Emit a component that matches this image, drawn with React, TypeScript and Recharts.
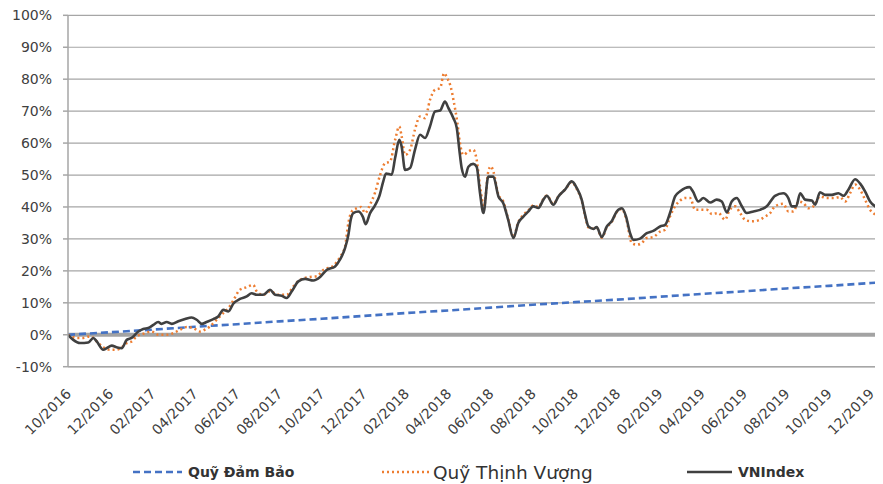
import React from 'react';
import { LineChart, Line, XAxis, YAxis, CartesianGrid } from 'recharts';

// x = months since 10/2016, y = cumulative return in %
const X_TICKS = [0, 2, 4, 6, 8, 10, 12, 14, 16, 18, 20, 22, 24, 26, 28, 30, 32, 34, 36, 38];
const X_LABELS = ['10/2016', '12/2016', '02/2017', '04/2017', '06/2017', '08/2017', '10/2017', '12/2017', '02/2018', '04/2018',
  '06/2018', '08/2018', '10/2018', '12/2018', '02/2019', '04/2019', '06/2019', '08/2019', '10/2019', '12/2019'];
const Y_TICKS = [-10, 0, 10, 20, 30, 40, 50, 60, 70, 80, 90, 100];

// flat 0% baseline drawn in grey
const ZERO_X = [0, 38.57];
const ZERO_Y = [0, 0];

const DB_X = [0, 2, 4, 6, 8, 10, 12, 14, 16, 18, 20, 22, 24, 26, 28, 30, 32, 34, 36, 38, 38.57];
const DB_Y = [0, 0.8, 1.6, 2.5, 3.3, 4.2, 5.0, 5.9, 6.8, 7.6, 8.5, 9.4, 10.2, 11.0, 11.9, 12.8, 13.6, 14.5, 15.3, 16.2, 16.4];

const VN_X = [0, 0.25, 0.57, 0.96, 1.2, 1.36, 1.67, 1.83, 2.07, 2.3, 2.54, 2.78, 3.01, 3.33, 3.56, 3.8, 4.04, 4.27, 4.43, 4.67,
  4.91, 5.22, 5.54, 5.85, 6.09, 6.33, 6.56, 6.88, 7.11, 7.35, 7.59, 7.82, 8.14, 8.46, 8.69, 8.93, 9.24, 9.56, 9.8, 10.11,
  10.35, 10.59, 10.9, 11.22, 11.61, 11.93, 12.24, 12.64, 12.87, 13.11, 13.27, 13.38, 13.5, 13.74, 13.95, 14.09, 14.29, 14.53, 14.73, 14.92,
  15.05, 15.32, 15.48, 15.68, 15.79, 15.95, 16.19, 16.42, 16.66, 16.9, 17.13, 17.37, 17.61, 17.84, 18.0, 18.24, 18.4, 18.52, 18.63, 18.79,
  18.95, 19.18, 19.34, 19.5, 19.66, 19.89, 20.13, 20.37, 20.6, 20.83, 21.08, 21.31, 21.55, 21.79, 22.02, 22.26, 22.5, 22.66, 22.97, 23.21,
  23.52, 23.84, 24.08, 24.31, 24.47, 24.63, 24.86, 25.02, 25.26, 25.5, 25.73, 25.97, 26.21, 26.41, 26.6, 26.76, 27.07, 27.39, 27.7, 28.02,
  28.26, 28.49, 28.73, 28.97, 29.2, 29.41, 29.57, 29.83, 30.07, 30.39, 30.7, 30.94, 31.18, 31.41, 31.65, 31.89, 32.12, 32.44, 32.75, 33.07,
  33.46, 33.85, 34.09, 34.25, 34.46, 34.65, 34.88, 35.2, 35.36, 35.59, 35.83, 36.15, 36.46, 36.7, 36.93, 37.25, 37.49, 37.72, 37.96, 38.2, 38.57];
const VN_Y = [0, -1.6, -2.6, -2.4, -1, -2.1, -4.7, -4.2, -3.4, -3.9, -4.2, -1.6, -1, 1, 1.8, 2.1, 3.1, 4, 3.4, 4,
  3.4, 4.2, 4.9, 5.4, 4.7, 3.4, 4, 4.9, 5.7, 7.8, 7.3, 9.7, 11.2, 12, 13, 12.5, 12.5, 14.1, 12.5, 12.2,
  11.5, 13.6, 16.7, 17.5, 17, 18.1, 20.3, 21.4, 23.5, 27.1, 31.3, 36, 38.1, 38.6, 37, 34.6, 38, 40.5, 43.3, 48,
  50.5, 50.1, 55.3, 61, 58.9, 51.6, 52.2, 57.9, 62.6, 61.6, 65.2, 69.9, 70.2, 73, 71, 67.8, 64.7, 57.9, 52.2, 49.5,
  52.6, 53.5, 52.6, 44.3, 38.1, 49.5, 49.5, 43.3, 41.2, 36, 30.3, 35, 37, 38.6, 40.2, 39.7, 42.3, 43.5, 40.7, 43.3,
  45.4, 48, 45.9, 42.3, 37.6, 33.9, 33.1, 33.7, 30.6, 33.9, 35.5, 38.6, 39.6, 37, 31.8, 29.7, 30.1, 31.8, 32.5, 33.9,
  34.4, 38.1, 43.3, 44.9, 45.9, 46.2, 44.9, 41.7, 42.8, 41.4, 42.3, 41.7, 38.3, 41.7, 42.8, 40.2, 38.1, 38.6, 39.1, 40.2,
  43.5, 44.3, 42.8, 40.2, 40.2, 44.3, 42.3, 42, 40.7, 44.6, 43.8, 43.8, 44.3, 43.5, 45.4, 48.7, 47.3, 44.9, 41.7, 40.2, 39.2];

const TV_X = [0, 0.41, 0.72, 1.04, 1.2, 1.43, 1.67, 1.99, 2.3, 2.54, 2.78, 3.01, 3.25, 3.56, 3.96, 4.27, 4.67, 4.98, 5.3, 5.62,
  5.93, 6.25, 6.48, 6.72, 7.04, 7.35, 7.59, 7.82, 8.14, 8.46, 8.77, 8.93, 9.24, 9.56, 9.95, 10.35, 10.66, 10.98, 11.45, 11.77,
  12.08, 12.56, 12.87, 13.11, 13.27, 13.43, 13.66, 13.87, 14.06, 14.29, 14.53, 14.77, 15.0, 15.24, 15.48, 15.68, 15.79, 15.95, 16.19, 16.42,
  16.66, 16.9, 17.13, 17.37, 17.61, 17.8, 17.95, 18.11, 18.27, 18.43, 18.55, 18.71, 18.95, 19.18, 19.34, 19.5, 19.69, 19.89, 20.01, 20.13,
  20.37, 20.6, 20.83, 21.08, 21.31, 21.55, 21.79, 22.02, 22.26, 22.5, 22.66, 22.97, 23.21, 23.52, 23.84, 24.08, 24.31, 24.47, 24.63, 24.86,
  25.02, 25.26, 25.5, 25.73, 25.97, 26.21, 26.41, 26.68, 26.92, 27.15, 27.39, 27.7, 28.02, 28.26, 28.49, 28.73, 28.97, 29.2, 29.44, 29.68,
  29.91, 30.23, 30.47, 30.78, 31.1, 31.3, 31.57, 31.81, 32.04, 32.36, 32.67, 32.99, 33.23, 33.46, 33.85, 34.09, 34.33, 34.57, 34.8, 35.04,
  35.28, 35.59, 35.91, 36.22, 36.54, 36.78, 37.01, 37.25, 37.49, 37.72, 37.96, 38.2, 38.57];
const TV_Y = [0, -1, -1, -0.5, -1, -2.6, -3.9, -4.7, -4.7, -3.9, -2.6, -2.1, -0.5, 0.3, 1, 0, 0, 0.5, 1.6, 2.4,
  2.1, 1, 1.6, 2.6, 4.7, 6.8, 8.3, 10.7, 14.1, 14.9, 15.6, 13.6, 12.5, 13.6, 12.5, 12.5, 15.1, 17.2, 18.1, 18.3,
  20.3, 21.6, 24.3, 27.6, 35, 38.6, 39.6, 40, 38.1, 40.7, 44.5, 50, 53.7, 54.2, 61, 65.2, 62.1, 56.3, 57.9, 64.2,
  68.3, 67.8, 73.5, 76.7, 77.2, 81.9, 80.3, 77.7, 72.5, 66.2, 60, 56.3, 57.4, 57.9, 54.8, 46.4, 40.2, 51.1, 52.7, 51.1,
  43.8, 41.7, 36.3, 30.6, 35.3, 37.5, 39, 40.5, 40, 42.5, 43.6, 40.9, 43.4, 45.4, 47.8, 45.6, 42, 37.3, 33.6, 33.2,
  33.5, 30.4, 33.6, 35.3, 38.4, 39.4, 36.5, 28.7, 28.2, 28.7, 30.3, 30.6, 32.3, 32.9, 37, 40.2, 42, 42.8, 42.8, 39.1,
  39.1, 39.1, 37.8, 38.1, 36, 38.9, 40.2, 38.1, 36, 35.5, 35.8, 37, 38.1, 40.2, 41, 38.6, 38.6, 41.7, 41.2, 39.6,
  40.2, 43.3, 42.8, 42.8, 43.1, 41.7, 44.3, 47, 45.4, 42.3, 39.1, 37.6, 35.8];

const toRows = (xs: number[], ys: number[]) => xs.map((m, i) => ({ m, v: ys[i] }));

const FONT = '"DejaVu Sans", Verdana, sans-serif';

const XTick = (props: any) => {
  const { x, y, payload } = props;
  const idx = X_TICKS.indexOf(payload.value);
  return (
    <g transform={`translate(${x + 4},${y + 28})`}>
      <text x={0} y={0} textAnchor="end" transform="rotate(-45)" fontSize={14} fontFamily={FONT} fill="#404040">
        {X_LABELS[idx]}
      </text>
    </g>
  );
};

function LegendBar() {
  return (
    <svg width={875} height={30} style={{ position: 'absolute', left: 0, top: 449 }}>
      <g fontFamily={FONT} fill="#333">
        <line x1={125} x2={174} y1={15} y2={15} stroke="#4472C4" strokeWidth={2.6} strokeDasharray="7 4" />
        <text x={180} y={15} dominantBaseline="central" fontSize={14} fontWeight="bold">Quỹ Đảm Bảo</text>
        <line x1={374} x2={422} y1={15} y2={15} stroke="#ED7D31" strokeWidth={2.5} strokeDasharray="2 3" />
        <text x={425} y={15} dominantBaseline="central" fontSize={18.5}>Quỹ Thịnh Vượng</text>
        <line x1={679} x2={724} y1={15} y2={15} stroke="#404040" strokeWidth={2.5} />
        <text x={730} y={15} dominantBaseline="central" fontSize={14} fontWeight="bold">VNIndex</text>
      </g>
    </svg>
  );
}

export default function App() {
  return (
    <div style={{ position: 'relative', width: 875, height: 476 }}>
      <LineChart width={875} height={476} margin={{ top: 7.3, right: 0, bottom: 0, left: 0 }}>
        <CartesianGrid vertical={false} stroke="#a6a6a6" strokeWidth={1.2} />
        <XAxis dataKey="m" type="number" domain={[0, 38.57]} ticks={X_TICKS} allowDataOverflow
               height={117.3} tickSize={0} tickMargin={0} tick={<XTick />} interval={0}
               stroke="#a6a6a6" strokeWidth={1.5} />
        <YAxis type="number" domain={[-10, 100]} ticks={Y_TICKS} width={60} interval={0}
               tickFormatter={(v: number) => `${v}%`} tickSize={5} tickMargin={11}
               tick={{ fontSize: 14, fontFamily: FONT, fill: '#404040' }}
               stroke="#a6a6a6" strokeWidth={1.5} />
        <Line data={toRows(ZERO_X, ZERO_Y)} dataKey="v" type="linear" stroke="#a3a3a3" strokeWidth={4}
              dot={false} activeDot={false} isAnimationActive={false} />
        <Line data={toRows(DB_X, DB_Y)} dataKey="v" type="linear" stroke="#4472C4" strokeWidth={2.6}
              strokeDasharray="7 4" dot={false} isAnimationActive={false} />
        <Line data={toRows(TV_X, TV_Y)} dataKey="v" type="monotone" stroke="#ED7D31" strokeWidth={2.5}
              strokeDasharray="2 3" dot={false} isAnimationActive={false} />
        <Line data={toRows(VN_X, VN_Y)} dataKey="v" type="monotone" stroke="#404040" strokeWidth={2.6}
              dot={false} isAnimationActive={false} />
      </LineChart>
      <LegendBar />
    </div>
  );
}
